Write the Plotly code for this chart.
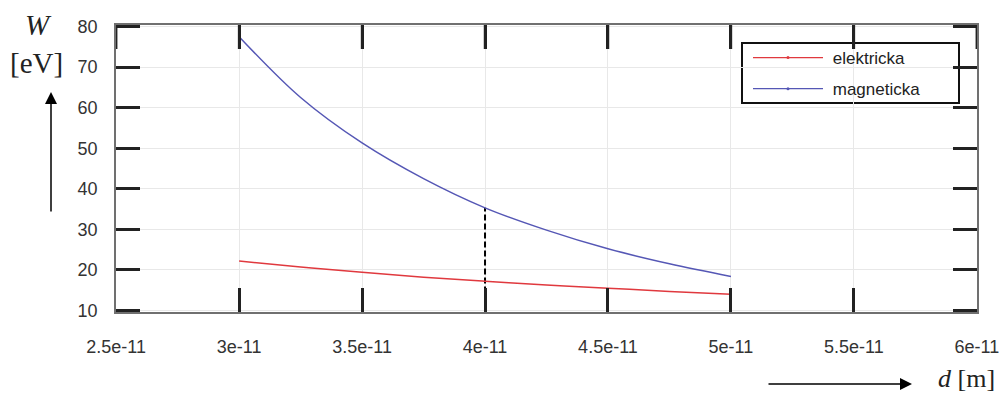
import plotly.graph_objects as go

# ---- data ----
d_values = [3.0e-11, 3.25e-11, 3.5e-11, 3.75e-11, 4.0e-11, 4.25e-11, 4.5e-11, 4.75e-11, 5.0e-11]
elektricka = [22.2, 20.7, 19.4, 18.2, 17.2, 16.3, 15.5, 14.7, 14.0]
magneticka = [77.5, 62.5, 51.3, 42.5, 35.3, 29.8, 25.2, 21.5, 18.4]

x_tickvals = [2.5e-11, 3e-11, 3.5e-11, 4e-11, 4.5e-11, 5e-11, 5.5e-11, 6e-11]
x_ticktext = ["2.5e-11", "3e-11", "3.5e-11", "4e-11", "4.5e-11", "5e-11", "5.5e-11", "6e-11"]
y_tickvals = [10, 20, 30, 40, 50, 60, 70, 80]

marker_d = 4e-11
marker_w = 35.3

RED = "#e0393e"
BLUE = "#5557b5"

fig = go.Figure()

# dashed guide line
fig.add_trace(go.Scatter(x=[marker_d, marker_d], y=[10, marker_w], mode="lines",
                         line=dict(color="black", width=2, dash="6px,3px"),
                         showlegend=False, hoverinfo="skip"))

fig.add_trace(go.Scatter(x=d_values, y=elektricka, mode="lines",
                         line=dict(color=RED, width=1.5, shape="spline"), showlegend=False))
fig.add_trace(go.Scatter(x=d_values, y=magneticka, mode="lines",
                         line=dict(color=BLUE, width=1.5, shape="spline"), showlegend=False))

# legend entries
fig.add_trace(go.Scatter(x=[None], y=[None], mode="lines+markers",
                         name="&nbsp;elektricka", legendgroup="a",
                         line=dict(color=RED, width=1.2), marker=dict(size=3, color=RED)))
fig.add_trace(go.Scatter(x=[None], y=[None], mode="lines+markers",
                         name="&nbsp;magneticka", legendgroup="b",
                         line=dict(color=BLUE, width=1.2), marker=dict(size=3, color=BLUE)))

L, R, T, B = 116, 22, 25, 85
W, H = 999, 397
pw, ph = W - L - R, H - T - B
TICKLEN = 24


def px(X):
    return (X - L) / pw


def py(Y):
    return (H - B - Y) / ph


axis_common = dict(
    showline=True, linecolor="#707070", linewidth=1.5, mirror="ticks",
    ticks="inside", ticklen=TICKLEN, tickwidth=2.5, tickcolor="#222222",
    showgrid=True, gridcolor="#e8e8e8", gridwidth=1, zeroline=False,
    automargin=False, ticklabeloverflow="allow",
    tickfont=dict(family="Liberation Sans, Arial, sans-serif", size=18, color="#333333"),
)

fig.update_layout(
    width=W, height=H,
    margin=dict(l=L, r=R, t=T, b=B, autoexpand=False),
    paper_bgcolor="white", plot_bgcolor="white",
    # ranges padded by ~1.5 px so that the end ticks (frame corners) are drawn
    xaxis=dict(range=[2.4993e-11, 6.0007e-11], tickvals=x_tickvals, ticktext=x_ticktext,
               ticklabelstandoff=18, **axis_common),
    yaxis=dict(range=[9.62, 80.38], tickvals=y_tickvals, ticklabelstandoff=13, **axis_common),
    legend=dict(x=px(748), y=py(40), xanchor="left", yanchor="top",
                borderwidth=0, bgcolor="rgba(0,0,0,0)",
                font=dict(family="Liberation Sans, Arial, sans-serif", size=17, color="#222222"),
                itemwidth=70, traceorder="grouped", tracegroupgap=6),
    showlegend=True,
)

# legend frame (white box between gridlines and traces, ticks stay on top)
fig.add_shape(type="rect", xref="paper", yref="paper",
              x0=px(742), x1=px(959), y0=py(103), y1=py(43),
              line=dict(color="#111111", width=2), fillcolor="white", layer="between")

# top mirror ticks redrawn on top (they cross into the legend frame in the reference)
for xv in x_tickvals:
    fig.add_shape(type="line", xref="x", yref="paper", x0=xv, x1=xv,
                  y0=1, y1=1 - TICKLEN / ph, layer="above",
                  line=dict(color="#222222", width=2.5))

serif = "Liberation Serif, Times New Roman, serif"
fig.add_annotation(x=px(38), y=py(25), xref="paper", yref="paper", text="<i>W</i>",
                   xanchor="center", yanchor="middle",
                   showarrow=False, font=dict(family=serif, size=29, color="#222222"))
fig.add_annotation(x=px(36), y=py(63), xref="paper", yref="paper", text="[eV]",
                   xanchor="center", yanchor="middle",
                   showarrow=False, font=dict(family=serif, size=29, color="#222222"))
fig.add_annotation(x=px(997), y=py(395), xref="paper", yref="paper", xanchor="right",
                   yanchor="bottom",
                   text="<i>d</i> [m]", showarrow=False,
                   font=dict(family=serif, size=26, color="#222222"))

# arrows
fig.add_annotation(x=px(51), y=py(92), xref="paper", yref="paper", ax=0, ay=121,
                   axref="pixel", ayref="pixel", showarrow=True, arrowhead=2,
                   arrowsize=1.6, arrowwidth=1.5, arrowcolor="black", text="")
fig.add_annotation(x=px(912), y=py(384), xref="paper", yref="paper", ax=-145, ay=0,
                   axref="pixel", ayref="pixel", showarrow=True, arrowhead=2,
                   arrowsize=1.6, arrowwidth=1.5, arrowcolor="black", text="")

fig.write_html("out.html", config={"displayModeBar": False},
               post_script="document.body.style.margin='0';")
